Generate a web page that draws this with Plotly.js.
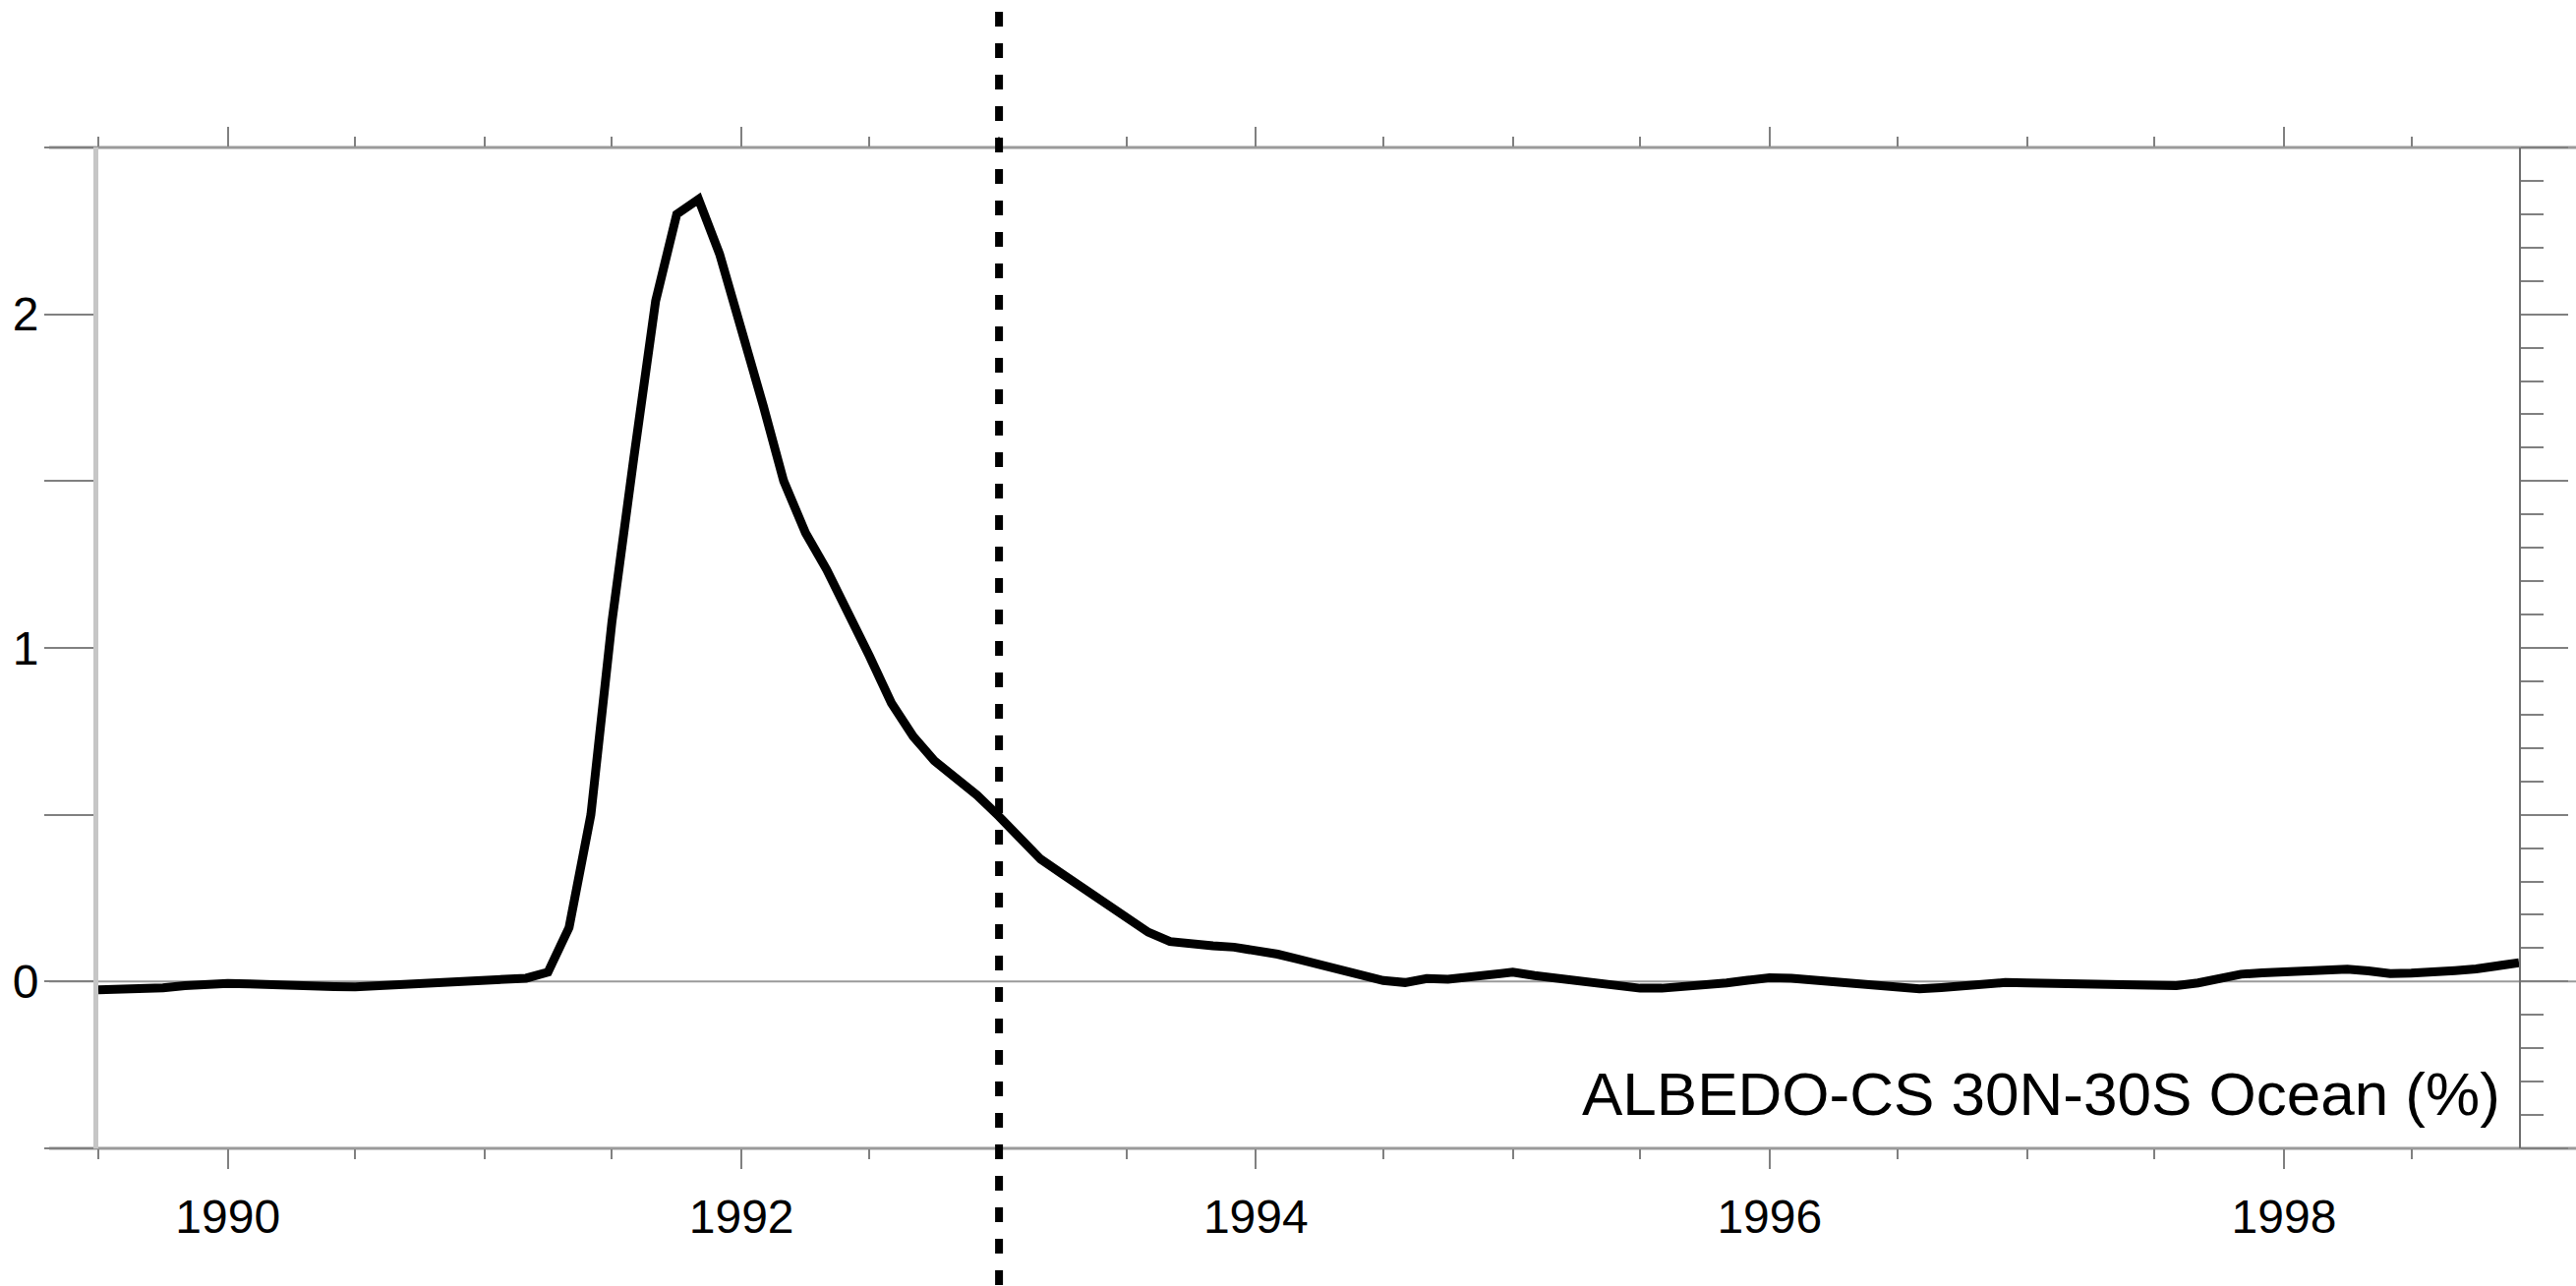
<!DOCTYPE html>
<html>
<head>
<meta charset="utf-8">
<script src="https://cdn.plot.ly/plotly-3.0.1.min.js"></script>
<style>
  html, body { margin: 0; padding: 0; background: #ffffff; }
  #chart { width: 2620px; height: 1308px; }
</style>
</head>
<body>
<div id="chart"></div>
<script>
// ---- Data (monthly anomalies, %), series starts July 1989 ----
const seriesStartYear = 1989;
const seriesStartMonth = 7;

const albedo1989 = [-0.025, -0.025, -0.024, -0.019, -0.012, -0.007];               // Jul–Dec
const albedo1990 = [-0.006, -0.007, -0.010, -0.013, -0.014, -0.015, -0.016, -0.013, -0.008, -0.005, -0.002, 0.000];
const albedo1991 = [0.002, 0.005, 0.010, 0.028, 0.162, 0.500, 1.080, 1.570, 2.040, 2.300, 2.345, 2.180];
const albedo1992 = [1.960, 1.726, 1.500, 1.345, 1.235, 1.110, 0.975, 0.835, 0.735, 0.662, 0.612, 0.558];
const albedo1993 = [0.495, 0.425, 0.367, 0.322, 0.280, 0.237, 0.190, 0.148, 0.120, 0.111, 0.107, 0.103];
const albedo1994 = [0.094, 0.082, 0.068, 0.052, 0.033, 0.016, 0.003, -0.003, 0.009, 0.007, 0.015, 0.024];
const albedo1995 = [0.028, 0.018, 0.011, 0.006, -0.003, -0.012, -0.020, -0.020, -0.016, -0.011, -0.004, 0.004];
const albedo1996 = [0.011, 0.010, 0.005, -0.002, -0.009, -0.015, -0.020, -0.022, -0.018, -0.011, -0.005, -0.003];
const albedo1997 = [-0.004, -0.005, -0.007, -0.009, -0.012, -0.014, -0.015, -0.012, -0.004, 0.010, 0.022, 0.026];
const albedo1998 = [0.028, 0.030, 0.034, 0.037, 0.032, 0.024, 0.025, 0.027, 0.033, 0.038, 0.045, 0.056];

const markerDate = '1993-01-01';          // vertical dashed reference line
const axisStart = '1989-07-01';
const axisEnd = '1998-12-01';
const yTickVals = [-0.5, 0, 0.5, 1, 1.5, 2, 2.5];
const yTickText = ['', '0', '', '1', '', '2', ''];
const seriesLabel = 'ALBEDO-CS 30N-30S Ocean (%)';

// ---- Build series ----
const albedoValues = [].concat(albedo1989, albedo1990, albedo1991, albedo1992, albedo1993,
                               albedo1994, albedo1995, albedo1996, albedo1997, albedo1998);
const monthDates = albedoValues.map(function (_, i) {
  const m = seriesStartMonth - 1 + i;
  const yr = seriesStartYear + Math.floor(m / 12);
  const mo = (m % 12) + 1;
  return yr + '-' + (mo < 10 ? '0' + mo : mo) + '-01';
});

const FONT = '"Liberation Sans", Arial, Helvetica, sans-serif';
const TICKGRAY = '#808080';

const traces = [
  {
    x: monthDates,
    y: albedoValues,
    type: 'scatter',
    mode: 'lines',
    line: { color: '#000000', width: 9 },
    hoverinfo: 'skip',
    showlegend: false
  },
  {
    x: [monthDates[0]],
    y: [null],
    yaxis: 'y2',
    type: 'scatter',
    mode: 'lines',
    hoverinfo: 'skip',
    showlegend: false
  }
];

const layout = {
  width: 2620,
  height: 1308,
  margin: { l: 100, r: 58, t: 150, b: 140, pad: 0 },
  paper_bgcolor: '#ffffff',
  plot_bgcolor: '#ffffff',
  font: { family: FONT, color: '#000000', size: 48 },
  showlegend: false,
  xaxis: {
    type: 'date',
    range: [axisStart, axisEnd],
    tickmode: 'linear',
    tick0: '1990-01-01',
    dtick: 'M24',
    tickformat: '%Y',
    ticks: 'outside',
    ticklen: 20,
    tickwidth: 2,
    tickcolor: TICKGRAY,
    mirror: 'ticks',
    minor: { tickmode: 'linear', tick0: '1990-01-01', dtick: 'M6', ticks: 'outside', ticklen: 10, tickwidth: 2, tickcolor: TICKGRAY },
    ticklabelstandoff: 7,
    tickfont: { family: FONT, size: 48, color: '#000000' },
    showgrid: false,
    zeroline: false,
    showline: false
  },
  yaxis: {
    range: [-0.5, 2.5],
    tickmode: 'array',
    tickvals: yTickVals,
    ticktext: yTickText,
    ticks: 'outside',
    ticklen: 50,
    tickwidth: 2,
    tickcolor: TICKGRAY,
    ticklabelstandoff: -4,
    tickfont: { family: FONT, size: 48, color: '#000000' },
    showgrid: false,
    zeroline: false,
    showline: true,
    linecolor: '#c6c6c6',
    linewidth: 5
  },
  yaxis2: {
    overlaying: 'y',
    side: 'right',
    anchor: 'x',
    range: [-0.5, 2.5],
    tickmode: 'linear',
    tick0: -0.5,
    dtick: 0.5,
    ticks: 'outside',
    ticklen: 48,
    tickwidth: 2,
    tickcolor: TICKGRAY,
    minor: { tickmode: 'linear', tick0: -0.5, dtick: 0.1, ticks: 'outside', ticklen: 23, tickwidth: 2, tickcolor: TICKGRAY },
    showticklabels: false,
    showgrid: false,
    zeroline: false,
    showline: true,
    linecolor: '#6e6e6e',
    linewidth: 2
  },
  shapes: [
    { type: 'line', xref: 'paper', yref: 'y', x0: -0.0203, x1: 1.03, y0: 0, y1: 0,
      line: { color: '#9a9a9a', width: 2 }, layer: 'below' },
    { type: 'line', xref: 'paper', yref: 'paper', x0: -0.0203, x1: 1.03, y0: 1, y1: 1,
      line: { color: '#9a9a9a', width: 3 }, layer: 'below' },
    { type: 'line', xref: 'paper', yref: 'paper', x0: -0.0203, x1: 1.03, y0: 0, y1: 0,
      line: { color: '#9a9a9a', width: 3 }, layer: 'below' },
    { type: 'line', xref: 'x', yref: 'paper', x0: markerDate, x1: markerDate, y0: 1.1356, y1: -0.15,
      line: { color: '#000000', width: 8, dash: '15px,17px' }, layer: 'above' }
  ],
  annotations: [
    {
      text: seriesLabel,
      xref: 'paper', yref: 'paper',
      x: 1, y: 0.055,
      xanchor: 'right', yanchor: 'middle',
      xshift: -17,
      showarrow: false,
      font: { family: FONT, size: 62, color: '#000000' }
    }
  ]
};

Plotly.newPlot('chart', traces, layout, { staticPlot: true, displayModeBar: false });
</script>
</body>
</html>
